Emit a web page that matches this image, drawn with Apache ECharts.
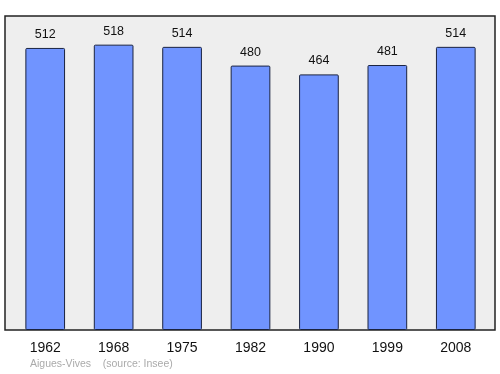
<!DOCTYPE html>
<html><head><meta charset="utf-8">
<script src="https://cdn.jsdelivr.net/npm/echarts@6/dist/echarts.min.js"></script>
<style>html,body{margin:0;padding:0;background:#fff}#c{width:500px;height:374px}</style>
</head><body><div id="c"></div>
<script>
const categories = ['1962','1968','1975','1982','1990','1999','2008'];
const population = [512,518,514,480,464,481,514];
const footerText = 'Aigues-Vives    (source: Insee)';

const chart = echarts.init(document.getElementById('c'), null, {renderer:'canvas'});
chart.setOption({
  animation:false,
  grid:[
    {left:11, right:10, top:16, bottom:44},
    {left:5, right:5, top:16, bottom:44, show:true, backgroundColor:'#eeeeee', borderColor:'#222', borderWidth:1.5, z:0}
  ],
  xAxis:[
    {type:'category', data:categories, gridIndex:0,
     axisLine:{show:false}, axisTick:{show:false},
     axisLabel:{color:'#111', fontSize:14, fontFamily:'Liberation Sans, Arial, sans-serif', margin:11}},
    {type:'value', gridIndex:1, show:false, min:0, max:1}
  ],
  yAxis:[
    {type:'value', gridIndex:0, min:0, max:570, show:false, splitLine:{show:false}},
    {type:'value', gridIndex:1, show:false, min:0, max:1, splitLine:{show:false}}
  ],
  graphic:[{type:'text', left:30, top:359, style:{text:footerText, fill:'#aaaaaa', font:'10.5px "Liberation Sans", Arial, sans-serif'}}],
  series:[{
    type:'bar', xAxisIndex:0, yAxisIndex:0, data:population, barWidth:'58%', z:3,
    itemStyle:{color:'#7094ff', borderColor:'#1a2340', borderWidth:1, borderRadius:1},
    label:{show:true, position:'top', distance:7, color:'#111', fontSize:12.5, fontFamily:'Liberation Sans, Arial, sans-serif'}
  }]
});
</script></body></html>
